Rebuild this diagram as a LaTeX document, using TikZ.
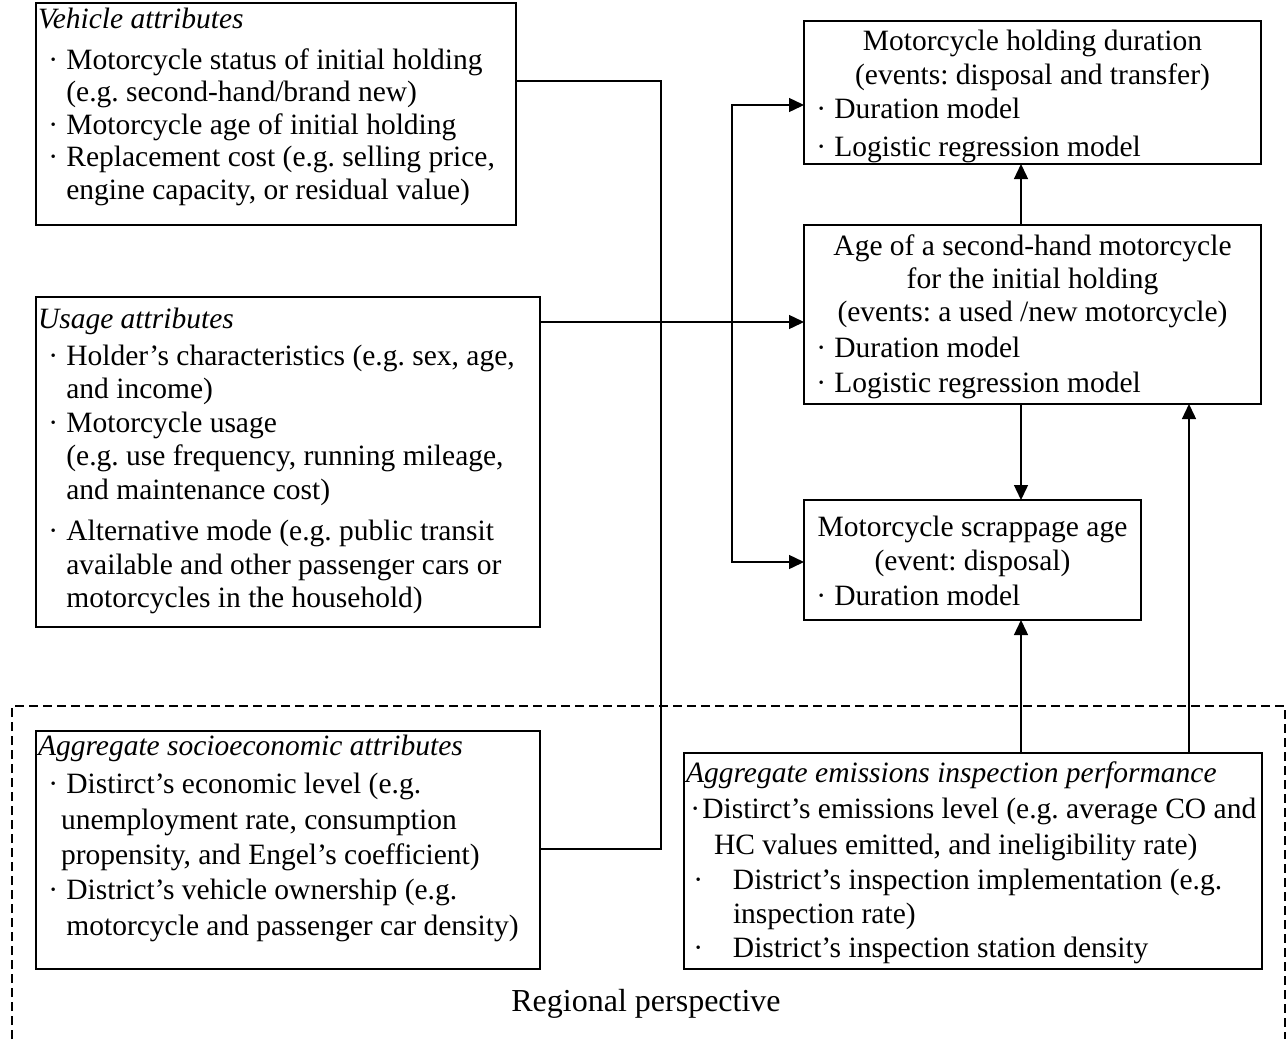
\documentclass[tikz,border=0pt]{standalone}
\usepackage{fontspec}
\setmainfont{Liberation Serif}
\usetikzlibrary{arrows.meta}
\frenchspacing
\newcommand\rw[2]{\hbox{\hskip#1\relax\smash{#2}}}
\newcommand\gp[1]{\vskip#1\relax}
\newcommand\bu[1][18pt]{\makebox[#1][l]{·}}
\newcommand\rows[1]{\vtop{\baselineskip=0pt\lineskip=0pt\lineskiplimit=0pt\parskip=0pt #1}}
\newcommand\ctr[2]{\makebox[#1][c]{#2}}
\begin{document}
\begin{tikzpicture}[x=1pt,y=-1pt,
  box/.style={draw, line width=1.4pt, anchor=north west, inner sep=0pt, outer sep=0pt},
  conn/.style={line width=1.4pt},
  arr/.style={conn, -{Triangle[length=15pt,width=14pt]}},
  txt/.style={anchor=base west, inner sep=0pt, outer sep=0pt, font=\fontsize{29.5pt}{33pt}\selectfont\frenchspacing}]
\useasboundingbox (0,0) rectangle (1287,1039);
% boxes
\node[box, minimum width=480pt, minimum height=222pt] (veh) at (36,3) {};
\node[box, minimum width=504pt, minimum height=330pt] (use) at (36,297) {};
\node[box, minimum width=504pt, minimum height=238pt] (soc) at (36,731) {};
\node[box, minimum width=578pt, minimum height=216pt] (emi) at (684,753) {};
\node[box, minimum width=457pt, minimum height=143pt] (hold) at (804,21) {};
\node[box, minimum width=457pt, minimum height=179pt] (age) at (804,225) {};
\node[box, minimum width=337pt, minimum height=120pt] (scr) at (804,500) {};
% texts
\node[txt] (vehT) at (38,28) {\rows{%
\rw{0pt}{\itshape Vehicle attributes}\gp{41pt}%
\rw{10.4pt}{\bu Motorcycle status of initial holding}\gp{32.5pt}%
\rw{28.4pt}{(e.g. second-hand/brand new)}\gp{32.5pt}%
\rw{10.4pt}{\bu Motorcycle age of initial holding}\gp{32.5pt}%
\rw{10.4pt}{\bu Replacement cost (e.g. selling price,}\gp{32.5pt}%
\rw{28.4pt}{engine capacity, or residual value)}}};
\node[txt] (useT) at (38,328) {\rows{%
\rw{0pt}{\itshape Usage attributes}\gp{37pt}%
\rw{10.4pt}{\bu Holder’s characteristics (e.g. sex, age,}\gp{33pt}%
\rw{28.4pt}{and income)}\gp{34pt}%
\rw{10.4pt}{\bu Motorcycle usage}\gp{33pt}%
\rw{28.4pt}{(e.g. use frequency, running mileage,}\gp{34pt}%
\rw{28.4pt}{and maintenance cost)}\gp{41pt}%
\rw{10.4pt}{\bu Alternative mode (e.g. public transit}\gp{34pt}%
\rw{28.4pt}{available and other passenger cars or}\gp{33pt}%
\rw{28.4pt}{motorcycles in the household)}}};
\node[txt] (socT) at (38,755) {\rows{%
\rw{0pt}{\itshape Aggregate socioeconomic attributes}\gp{38pt}%
\rw{10.4pt}{\bu Distirct’s economic level (e.g.}\gp{36pt}%
\rw{23pt}{unemployment rate, consumption}\gp{35pt}%
\rw{23pt}{propensity, and Engel’s coefficient)}\gp{35pt}%
\rw{10.4pt}{\bu District’s vehicle ownership (e.g.}\gp{36pt}%
\rw{28.4pt}{motorcycle and passenger car density)}}};
\node[txt] (emiT) at (686,782) {\rows{%
\rw{0pt}{\itshape Aggregate emissions inspection performance}\gp{36pt}%
\rw{4.4pt}{\bu[12pt]Distirct’s emissions level (e.g. average CO and}\gp{36pt}%
\rw{28pt}{HC values emitted, and ineligibility rate)}\gp{35pt}%
\rw{7.4pt}{\bu[39.6pt]District’s inspection implementation (e.g.}\gp{34pt}%
\rw{47pt}{inspection rate)}\gp{34pt}%
\rw{7.4pt}{\bu[39.6pt]District’s inspection station density}}};
\node[txt] (holdT) at (804,50) {\rows{%
\rw{0pt}{\ctr{457pt}{Motorcycle holding duration}}\gp{34pt}%
\rw{0pt}{\ctr{457pt}{(events: disposal and transfer)}}\gp{34pt}%
\rw{12.4pt}{\bu Duration model}\gp{38pt}%
\rw{12.4pt}{\bu Logistic regression model}}};
\node[txt] (ageT) at (804,255) {\rows{%
\rw{0pt}{\ctr{457pt}{Age of a second-hand motorcycle}}\gp{33pt}%
\rw{0pt}{\ctr{457pt}{for the initial holding}}\gp{33pt}%
\rw{0pt}{\ctr{457pt}{(events: a used /new motorcycle)}}\gp{36pt}%
\rw{12.4pt}{\bu Duration model}\gp{35pt}%
\rw{12.4pt}{\bu Logistic regression model}}};
\node[txt] (scrT) at (804,536) {\rows{%
\rw{0pt}{\ctr{337pt}{Motorcycle scrappage age}}\gp{34pt}%
\rw{0pt}{\ctr{337pt}{(event: disposal)}}\gp{35pt}%
\rw{12.4pt}{\bu Duration model}}};
% regional frame
\draw[conn, dash pattern=on 9pt off 5pt] (12,1039) -- (12,706) -- (1285,706) -- (1285,1039);
\node[anchor=base, inner sep=0pt, font=\fontsize{32pt}{36pt}\selectfont] (reg) at (646,1011) {Regional perspective};
% connectors
\coordinate (vy) at (0,81);
\coordinate (jx) at (661,0);
\coordinate (sy) at (0,849);
\coordinate (uy) at (0,322);
\coordinate (mx) at (732,0);
\coordinate (hy) at (0,105);
\coordinate (ry) at (0,562);
\coordinate (ax) at (1021,0);
\coordinate (bx) at (1189,0);
\draw[conn] (veh.east |- vy) -- (jx |- vy) -- (jx |- sy) -- (soc.east |- sy);
\draw[arr] (use.east |- uy) -- (age.west |- uy);
\draw[arr] (mx |- uy) -- (mx |- hy) -- (hold.west |- hy);
\draw[arr] (mx |- uy) -- (mx |- ry) -- (scr.west |- ry);
\draw[arr] (age.north -| ax) -- (hold.south -| ax);
\draw[arr] (age.south -| ax) -- (scr.north -| ax);
\draw[arr] (emi.north -| ax) -- (scr.south -| ax);
\draw[arr] (emi.north -| bx) -- (age.south -| bx);
\end{tikzpicture}
\end{document}
